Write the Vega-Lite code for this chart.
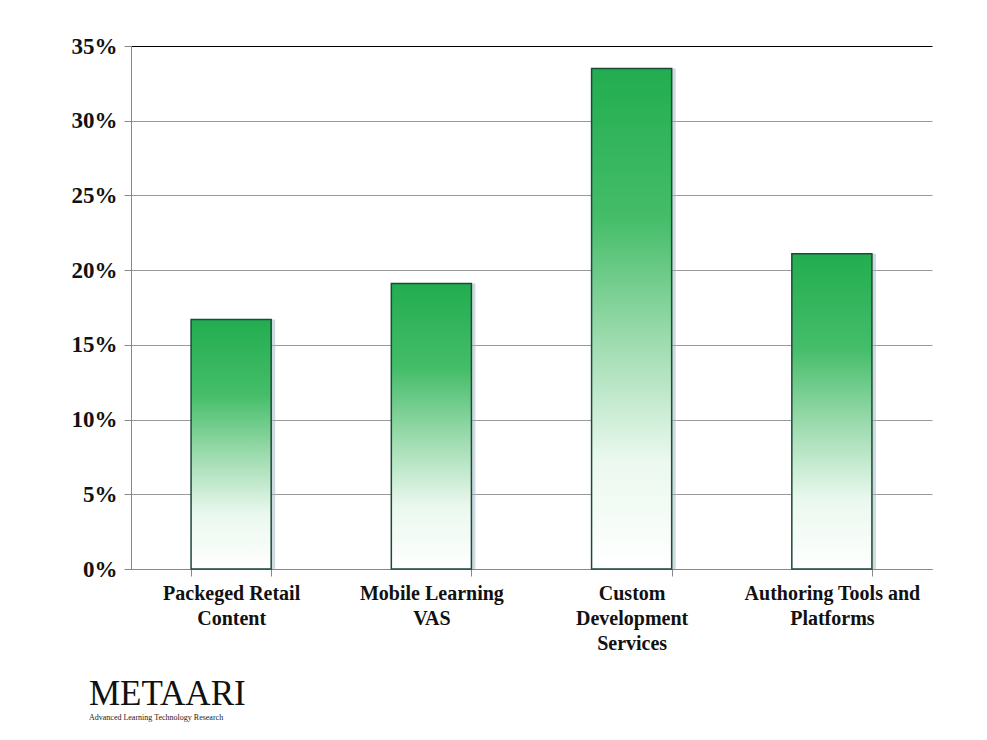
{
  "$schema": "https://vega.github.io/schema/vega-lite/v6.json",
  "width": 801,
  "height": 523,
  "autosize": "none",
  "padding": {"left": 131, "top": 46, "right": 55, "bottom": 171},
  "background": "white",
  "data": {
    "values": [
      {"category": "Packeged Retail|Content", "share": 0.167},
      {"category": "Mobile Learning|VAS", "share": 0.191},
      {"category": "Custom|Development|Services", "share": 0.335},
      {"category": "Authoring Tools and|Platforms", "share": 0.211}
    ]
  },
  "title": {
    "text": "METAARI",
    "subtitle": "Advanced Learning Technology Research",
    "orient": "bottom",
    "anchor": "start",
    "frame": "group",
    "dx": -42,
    "offset": 24,
    "font": "Liberation Serif",
    "fontSize": 35,
    "fontWeight": "normal",
    "color": "#111111",
    "subtitleFont": "Liberation Serif",
    "subtitleFontSize": 8,
    "subtitleColor": "#222222",
    "subtitlePadding": 2
  },
  "encoding": {
    "x": {
      "field": "category",
      "type": "nominal",
      "sort": null,
      "scale": {"paddingInner": 0.6, "paddingOuter": 0.3},
      "axis": {
        "title": null,
        "labelAngle": 0,
        "labelExpr": "split(datum.label, '|')",
        "labelFont": "Liberation Serif",
        "labelFontWeight": "bold",
        "labelFontSize": 20,
        "labelLineHeight": 25,
        "labelColor": "#111111",
        "labelPadding": 7,
        "tickBand": "extent",
        "tickColor": "#888888",
        "tickSize": 7,
        "domainColor": "#888888",
        "grid": false
      }
    },
    "y": {
      "field": "share",
      "type": "quantitative",
      "scale": {"domain": [0, 0.35], "nice": false},
      "axis": {
        "title": null,
        "format": ".0%",
        "values": [0, 0.05, 0.1, 0.15, 0.2, 0.25, 0.3, 0.35],
        "labelFont": "Liberation Serif",
        "labelFontWeight": "bold",
        "labelFontSize": 23,
        "labelColor": "#111111",
        "labelPadding": 7,
        "tickColor": "#888888",
        "tickSize": 7,
        "domainColor": "#888888",
        "grid": true,
        "gridColor": {"condition": {"test": "datum.value >= 0.35", "value": "#000000"}, "value": "#9a9a9a"},
        "gridWidth": 1
      }
    }
  },
  "layer": [
    {
      "mark": {"type": "bar", "xOffset": 4, "color": "#9fb5bf", "opacity": 0.5}
    },
    {
      "mark": {
        "type": "bar",
        "stroke": "#1c4a3a",
        "strokeWidth": 1.5,
        "color": {
          "gradient": "linear",
          "x1": 0, "y1": 0, "x2": 0, "y2": 1,
          "stops": [
            {"offset": 0, "color": "#22ad50"},
            {"offset": 0.3, "color": "#45bd69"},
            {"offset": 0.55, "color": "#9fdcb0"},
            {"offset": 0.78, "color": "#eaf8ee"},
            {"offset": 1, "color": "#ffffff"}
          ]
        }
      }
    }
  ],
  "config": {"view": {"stroke": null}}
}
